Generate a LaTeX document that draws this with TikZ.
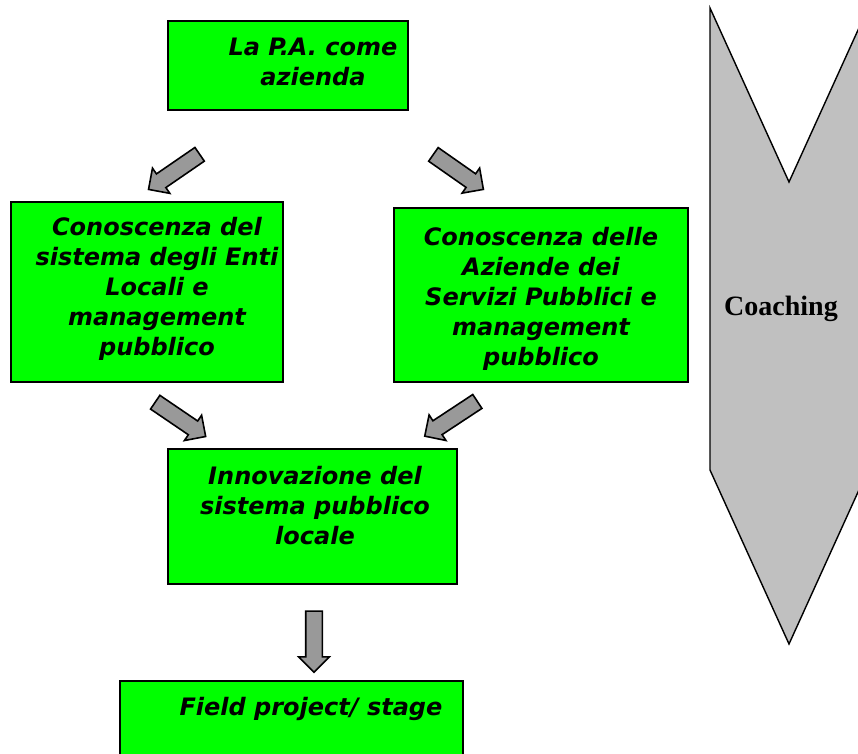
\documentclass[tikz,border=0pt]{standalone}
\usepackage{fontspec}
\setmainfont{DejaVu Sans}
\newfontfamily\coachfont{Liberation Serif}
\usetikzlibrary{positioning,shapes.arrows}
\definecolor{boxgreen}{RGB}{0,255,0}
\definecolor{arrowgray}{RGB}{153,153,153}
\definecolor{coachgray}{RGB}{192,192,192}
\tikzset{
	course box/.style={
		rectangle,
		draw=black,
		line width=2pt,
		fill=boxgreen,
		inner sep=0pt
	},
	course text/.style={
		anchor=north,
		inner sep=0pt,
		align=center,
		font=\fontsize{24}{30}\selectfont\bfseries\itshape
	},
	flow arrow/.style={% length of the arrow
		single arrow,
		draw=black,
		line width=1.6pt,
		fill=arrowgray,
		inner sep=7.5pt,
		single arrow head extend=7pt,
		minimum height=#1
	},
	coach band/.style={
		draw=black,
		line width=1.4pt,
		fill=coachgray
	}
}

\begin{document}
\begin{tikzpicture}[x=1pt,y=-1pt]
	\useasboundingbox (0,0) rectangle (858,753);
	\clip (0,0) rectangle (858,753);
	% coaching band on the right
	\draw[coach band] (710,8) -- (789,182) -- (868,8) -- (868,470) -- (789,644) -- (710,470) -- cycle;
	\node[font=\coachfont\bfseries\fontsize{28}{34}\selectfont,anchor=base,inner sep=0pt] (coach) at (781,315) {Coaching};
	% boxes
	\node[course box,minimum width=240pt,minimum height=89pt] (pa) at (288,65.5) {};
	\node[course text] (pa text) at (313,37.5) {La P.A. come\\azienda};
	\node[course box,minimum width=272pt,minimum height=180pt] (enti) at (147,292) {};
	\node[course text] (enti text) at (157,217) {Conoscenza del\\sistema degli Enti\\Locali e\\management\\pubblico};
	\node[course box,minimum width=294pt,minimum height=174pt] (aziende) at (541,295) {};
	\node[course text] (aziende text) at (541,227) {Conoscenza delle\\Aziende dei\\Servizi Pubblici e\\management\\pubblico};
	\node[course box,minimum width=289pt,minimum height=135pt] (innov) at (312.5,516.5) {};
	\node[course text] (innov text) at (315,466) {Innovazione del\\sistema pubblico\\locale};
	\node[course box,minimum width=343pt,minimum height=89pt] (field) at (291.5,725.5) {};
	\node[course text] (field text) at (311,697) {Field project/ stage};
	% arrows between the boxes
	\node[flow arrow=62pt,rotate=-145.5] (pa to enti) at (177.5,169.5) {};
	\node[flow arrow=61pt,rotate=-35] (pa to aziende) at (455,169.5) {};
	\node[flow arrow=61pt,rotate=-34.2] (enti to innov) at (177,417) {};
	\node[flow arrow=63pt,rotate=-146.6] (aziende to innov) at (454.5,416.5) {};
	\node[flow arrow=61pt,rotate=-90] (innov to field) at (314,637.5) {};
\end{tikzpicture}
\end{document}
